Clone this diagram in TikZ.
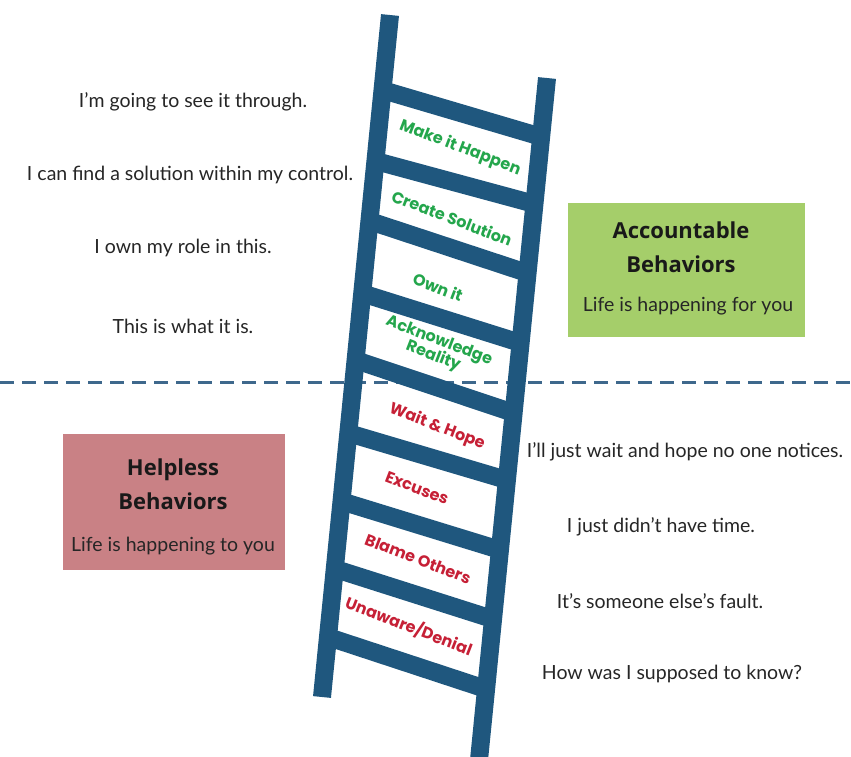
\documentclass[tikz,border=0pt]{standalone}
\usepackage{fontspec}
\usepackage{tikz}
\usetikzlibrary{calc}
\setmainfont{Lato}
\newfontfamily\rungfont{Poppins}
\newfontfamily\headfont{Open Sans}

\definecolor{ladderblue}{RGB}{31,87,126}
\definecolor{dashblue}{RGB}{62,104,140}
\definecolor{upgreen}{RGB}{36,166,76}
\definecolor{downred}{RGB}{198,32,54}
\definecolor{boxgreen}{RGB}{165,206,106}
\definecolor{boxred}{RGB}{201,129,133}

\begin{document}
\begin{tikzpicture}[x=1pt, y=-1pt,
    say/.style={font=\fontsize{19.5}{23}\selectfont, text=black!85},
    head/.style={font=\headfont\bfseries\fontsize{22}{34}\selectfont, align=center, text=black!90},
    rail/.style={ladderblue, line width=18pt},
    rung/.style={ladderblue, line width=18pt},
    uplabel/.style={font=\rungfont\bfseries\fontsize{16}{16}\selectfont, text=upgreen, rotate=-21, align=center},
    downlabel/.style={font=\rungfont\bfseries\fontsize{16}{16}\selectfont, text=downred, rotate=-21, align=center},
    divider/.style={dashblue, line width=3pt, dash pattern=on 14pt off 8pt}
]
\clip (0,0) rectangle (851,756);
\fill[white] (0,0) rectangle (851,756);

% split between the two halves
\coordinate (lineL) at (0,382);
\coordinate (lineR) at (851,382);
\draw[divider] (lineL) -- (lineR);

% boxes
\node[fill=boxgreen, minimum width=237pt, minimum height=134pt] (accbox) at (686,270) {};
\node[head] (acchead) at (681,247) {Accountable\\Behaviors};
\node[say] (accsub) at (688,306) {Life is happening for you};

\node[fill=boxred, minimum width=222pt, minimum height=136pt] (helpbox) at (174,502) {};
\node[head] (helphead) at (173,484) {Helpless\\Behaviors};
\node[say] (helpsub) at (173,546) {Life is happening to you};

% ladder
\coordinate (leftTop) at (390,15);
\coordinate (leftFoot) at (322,697);
\coordinate (rightTop) at (547,78);
\coordinate (rightFoot) at (478,770);

\foreach \l/\r in {0.110/0.085, 0.214/0.182, 0.302/0.282, 0.408/0.383, 0.506/0.484,
                   0.613/0.581, 0.713/0.682, 0.812/0.782, 0.912/0.883}
  \draw[rung] ($(leftTop)!\l!(leftFoot)$) -- ($(rightTop)!\r!(rightFoot)$);

\draw[rail] (leftTop) -- (leftFoot);
\draw[rail] (rightTop) -- (rightFoot);

% steps
\node[uplabel] (happen) at (460,148) {Make it Happen};
\node[uplabel] (create) at (452,218) {Create Solution};
\node[uplabel] (own) at (438,287) {Own it};
\node[uplabel] (ack) at (436,349) {Acknowledge\\[-2pt]Reality};
\node[downlabel] (wait) at (437,427) {Wait \& Hope};
\node[downlabel] (excuses) at (417,488) {Excuses};
\node[downlabel] (blame) at (418,559) {Blame Others};
\node[downlabel] (unaware) at (409,626) {Unaware/Denial};

% what people say
\node[say] (through) at (193,102) {I'm going to see it through.};
\node[say] (solution) at (190,175) {I can find a solution within my control.};
\node[say] (role) at (183,248) {I own my role in this.};
\node[say] (whatis) at (183,326) {This is what it is.};

\node[say] (notices) at (685,452) {I'll just wait and hope no one notices.};
\node[say] (time) at (661,527) {I just didn't have time.};
\node[say] (fault) at (660,601) {It's someone else's fault.};
\node[say] (know) at (672,674) {How was I supposed to know?};
\end{tikzpicture}
\end{document}
